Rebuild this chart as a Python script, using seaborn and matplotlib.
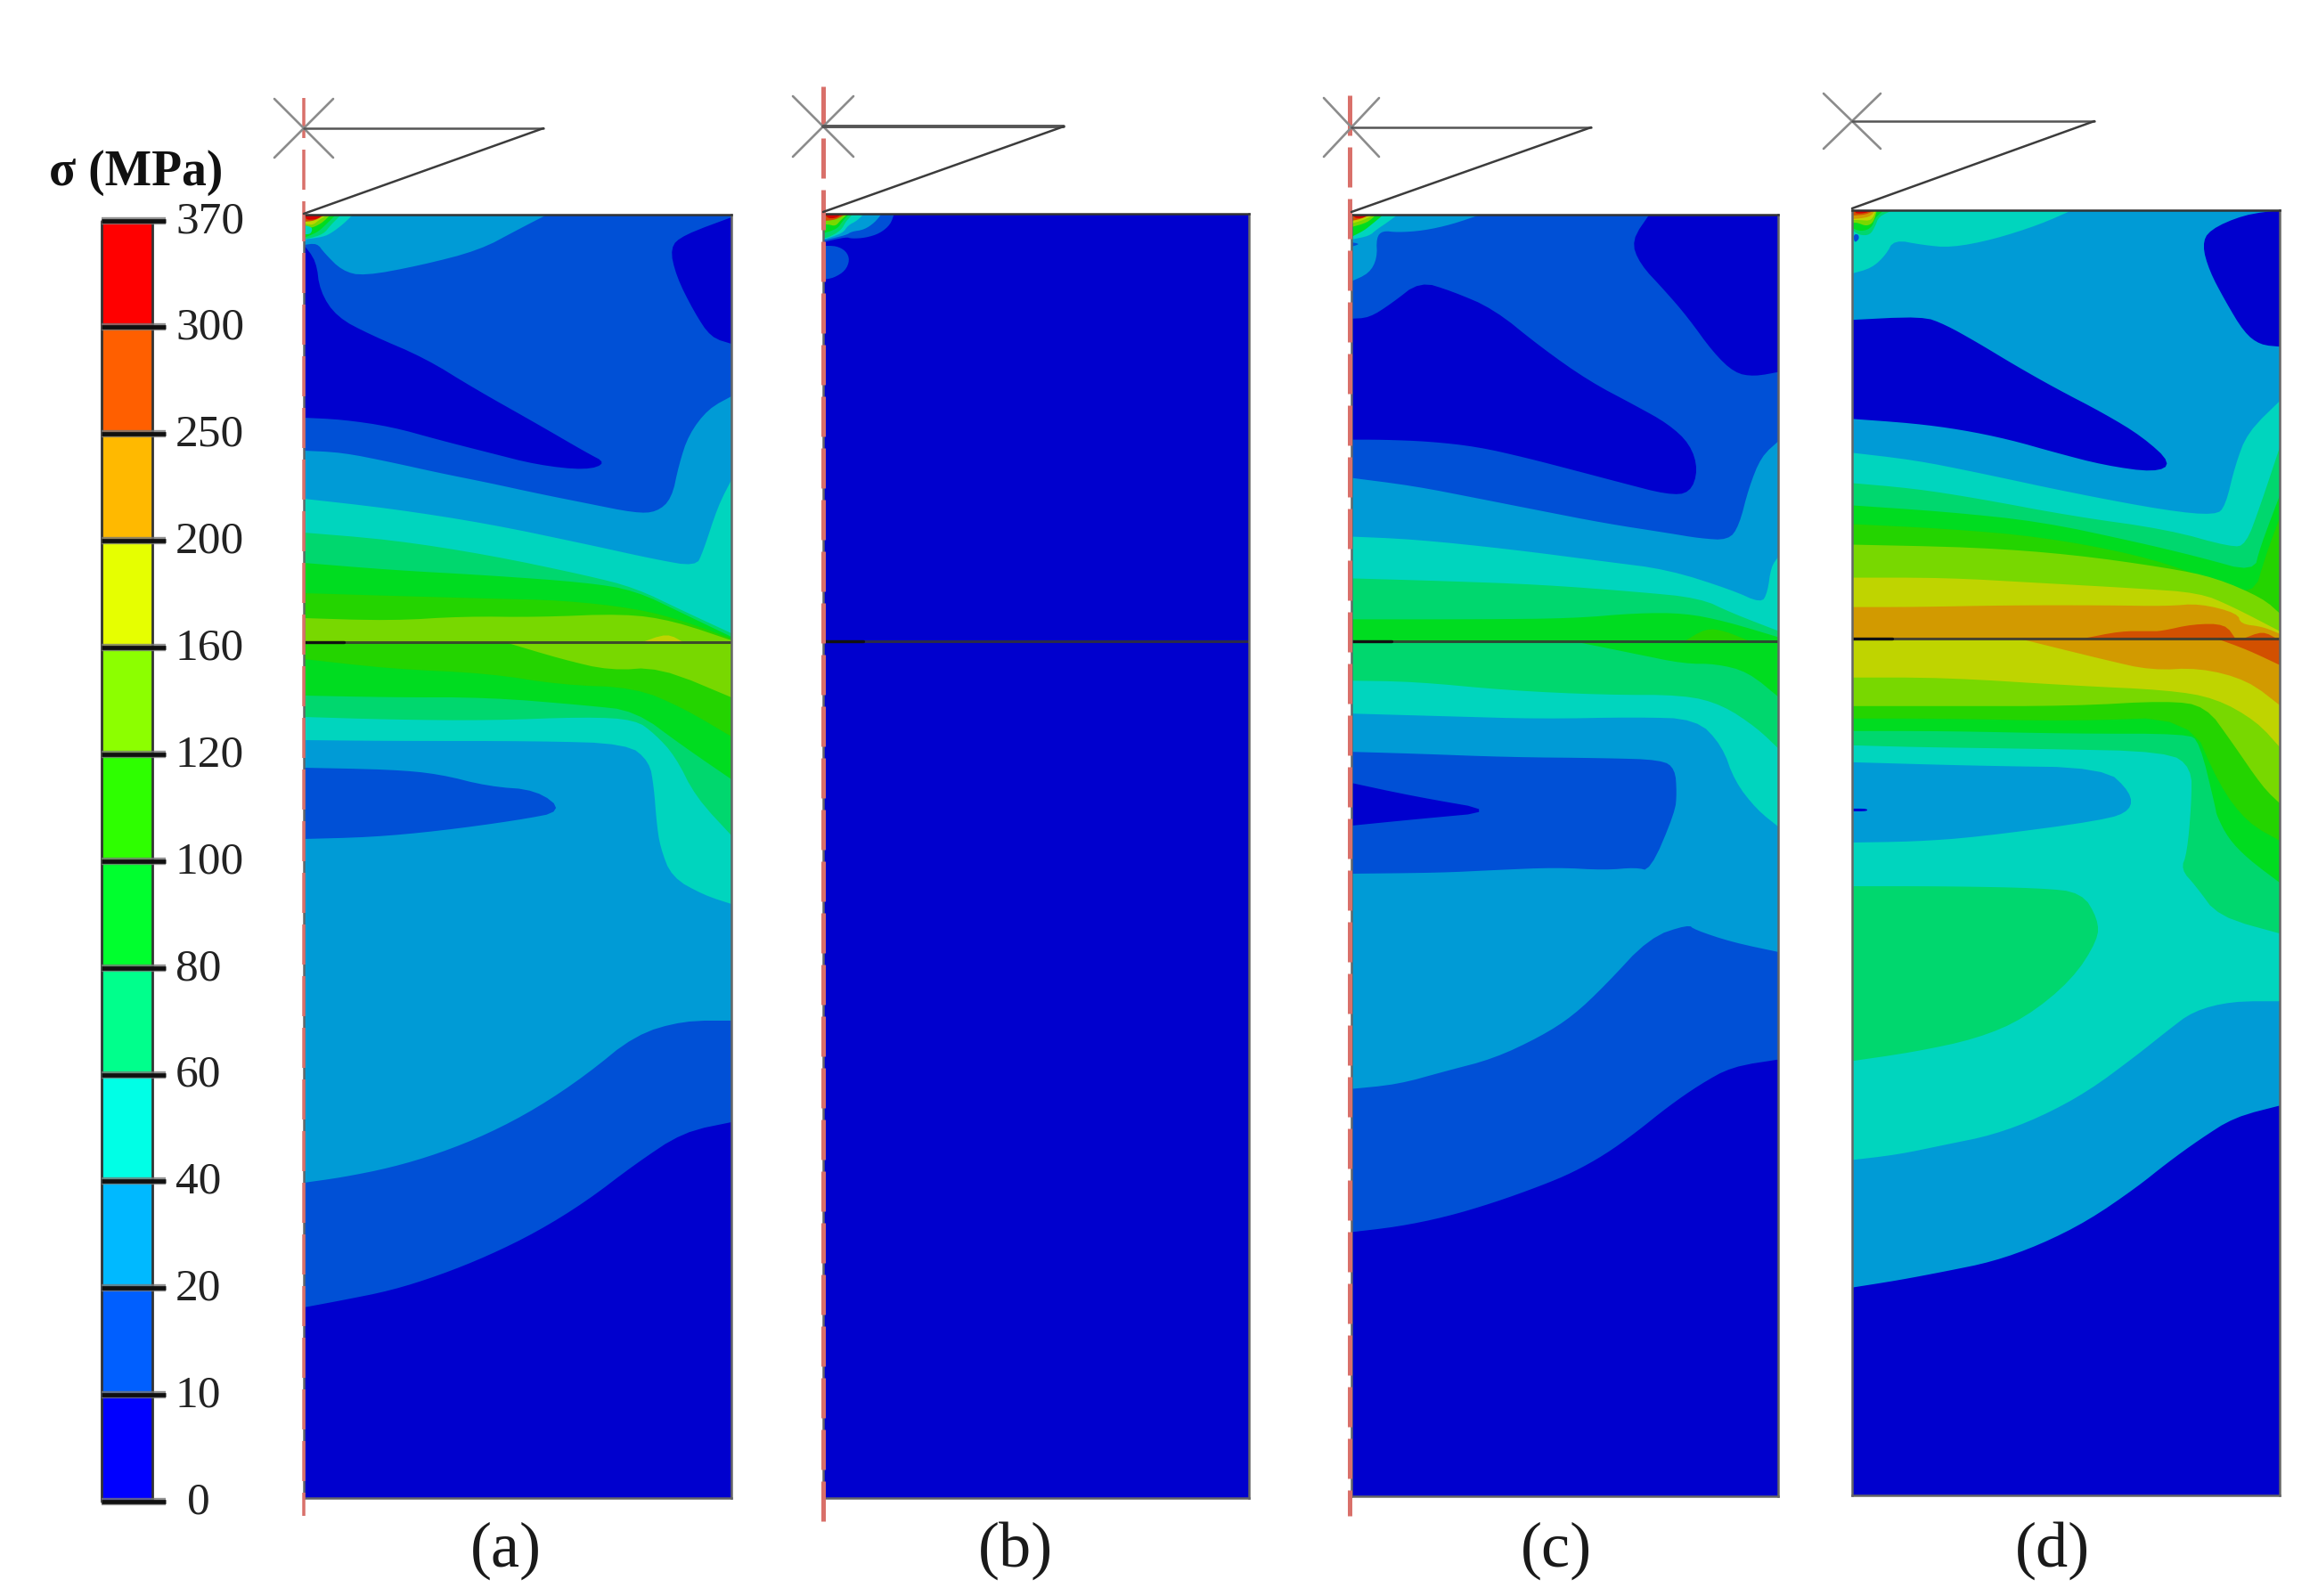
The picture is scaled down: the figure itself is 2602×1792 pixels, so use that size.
import matplotlib
matplotlib.use('Agg')
import matplotlib.pyplot as plt
from matplotlib.colors import ListedColormap
import numpy as np
import seaborn as sns

W, H = 2602, 1792

# stress legend, top to bottom
TICK_LABELS = ['370', '300', '250', '200', '160', '120', '100', '80', '60', '40', '20', '10', '0']
BAR_COLORS = ['#0000ff', '#005fff', '#00b9ff', '#00ffe6', '#00ff8c', '#00ff2e',
              '#2eff00', '#8cff00', '#e6ff00', '#ffb900', '#ff5f00', '#ff0000']
BAND_COLORS = ['#0000ce', '#0050d6', '#009bd6', '#00d5be', '#00d76e', '#00dc20',
               '#24d400', '#78d800', '#bfd400', '#d29a00', '#d25000', '#d40000']
BAR_BANDS = [11, 10, 9, 8, 7, 6, 5, 4, 3, 2, 1, 0]
PANEL_LABELS = ['(a)', '(b)', '(c)', '(d)']
BASE_BANDS = [1, 0, 1, 2]

# stress contours: (band, width position, depth), painted in order
PANEL_A = [
    (0, [0, 43, 98, 152, 207, 262, 317, 372, 426, 480, 480, 0],
     [1227, 1219, 1208, 1191, 1169, 1142, 1108, 1066, 1030, 1019, 1441, 1441]),
    (0, [480, 426, 411, 418, 438, 457, 480], [3, 23, 37, 69, 109, 138, 145]),
    (0, [0, 14, 18, 37, 75, 136, 191, 262, 317, 340, 317, 262, 207, 152, 98, 43, 0],
     [34, 52, 86, 115, 135, 161, 195, 235, 267, 279, 287, 281, 267, 253, 238, 230, 228]),
    (2, [0, 43, 98, 152, 207, 262, 317, 372, 396, 413, 421, 432, 454, 480, 480, 426, 372, 317, 262, 207, 152, 98, 43, 0],
     [265, 267, 278, 290, 301, 313, 324, 335, 334, 319, 281, 247, 218, 204, 905, 905, 921, 966, 1003, 1032, 1054, 1070, 1081, 1087]),
    (2, [0, 273, 240, 197, 131, 67, 43, 23, 15, 0], [0, 0, 17, 40, 57, 69, 63, 43, 32, 34]),
    (1, [0, 98, 152, 207, 262, 292, 240, 152, 76, 0], [621, 623, 628, 642, 646, 670, 680, 692, 699, 701]),
    (3, [0, 98, 207, 317, 394, 440, 448, 465, 480, 480, 449, 413, 400, 396, 393, 388, 363, 262, 98, 0],
     [319, 330, 347, 370, 387, 395, 379, 327, 298, 774, 764, 744, 710, 682, 643, 614, 594, 591, 591, 590]),
    (4, [0, 98, 207, 317, 372, 426, 480, 480, 440, 417, 394, 372, 317, 207, 98, 0],
     [357, 365, 382, 405, 419, 445, 470, 697, 654, 608, 583, 567, 564, 568, 567, 564]),
    (5, [0, 98, 207, 317, 372, 426, 480, 480, 0], [391, 399, 405, 413, 422, 448, 474, 481, 481]),
    (5, [0, 480, 480, 426, 372, 317, 207, 98, 0], [481, 481, 634, 597, 557, 551, 542, 542, 540]),
    (6, [0, 98, 207, 290, 372, 426, 480, 480, 0], [425, 428, 431, 433, 442, 456, 476, 481, 481]),
    (6, [0, 480, 480, 426, 372, 289, 207, 98, 0], [481, 481, 586, 554, 531, 528, 515, 510, 499]),
    (7, [0, 98, 180, 262, 360, 415, 480, 480, 0], [453, 456, 451, 452, 448, 456, 478, 481, 481]),
    (7, [229, 289, 344, 399, 480, 480], [481, 499, 512, 508, 542, 481]),
    (8, [380, 408, 426], [480, 470, 480]),
    (3, [0, 55, 45, 32, 22, 0], [0, 0, 10, 20, 25, 28]),
    (4, [0, 42, 30, 22, 5, 0], [0, 0, 12, 22, 27, 27]),
    (5, [0, 36, 24, 15, 0], [0, 0, 12, 20, 26]),
    (7, [0, 30, 20, 6, 0], [0, 0, 10, 16, 12]),
    (3, [0, 10, 8, 0], [12, 14, 22, 22]),
    (8, [0, 27, 17, 10, 0], [0, 0, 6, 12, 10]),
    (10, [0, 24, 12, 0], [0, 0, 7, 8]),
    (11, [2, 22, 15, 5, 2], [0, 0, 5, 6, 4]),
]
PANEL_B = [
    (1, [30, 80, 76, 64, 48, 32, 26, 0], [0, 0, 12, 22, 27, 28, 26, 32]),
    (1, [0, 15, 26, 30, 25, 12, 0], [36, 36, 42, 52, 64, 72, 74]),
    (2, [0, 66, 58, 46, 32, 26, 0], [0, 0, 10, 18, 20, 24, 30]),
    (3, [0, 46, 38, 28, 22, 0], [0, 0, 8, 13, 22, 29]),
    (4, [0, 34, 26, 20, 5, 0], [0, 0, 8, 19, 27, 27]),
    (5, [0, 30, 22, 16, 0], [0, 0, 8, 17, 22]),
    (7, [0, 28, 20, 14, 6, 0], [0, 0, 7, 14, 12, 12]),
    (10, [0, 26, 14, 0], [0, 0, 7, 8]),
    (11, [2, 22, 14, 5], [0, 0, 5, 5]),
]
PANEL_C = [
    (0, [0, 52, 106, 160, 213, 249, 285, 320, 356, 392, 428, 480, 480, 0],
     [1144, 1138, 1127, 1111, 1092, 1077, 1057, 1032, 1003, 978, 958, 950, 1441, 1441]),
    (0, [335, 315, 324, 353, 378, 407, 431, 453, 480, 480], [0, 29, 55, 86, 115, 155, 178, 182, 177, 0]),
    (0, [0, 20, 45, 77, 113, 160, 213, 267, 320, 356, 381, 390, 381, 356, 302, 249, 195, 142, 88, 35, 0],
     [117, 116, 100, 75, 86, 106, 149, 187, 215, 235, 258, 287, 313, 315, 301, 287, 273, 261, 255, 253, 253]),
    (2, [0, 70, 142, 213, 285, 356, 392, 424, 436, 447, 461, 480, 480, 428, 386, 379, 335, 285, 249, 213, 160, 106, 52, 0],
     [296, 305, 319, 333, 347, 358, 364, 366, 350, 307, 272, 255, 829, 818, 804, 798, 813, 867, 901, 924, 949, 963, 978, 983]),
    (2, [0, 145, 113, 81, 52, 35, 28, 29, 20, 0], [0, 0, 11, 18, 20, 18, 26, 49, 66, 75]),
    (1, [0, 70, 177, 285, 349, 364, 366, 364, 336, 320, 285, 231, 160, 99, 0],
     [604, 606, 610, 611, 613, 623, 650, 672, 738, 734, 737, 734, 737, 740, 741]),
    (0, [0, 70, 168, 70, 0], [639, 654, 671, 680, 687]),
    (3, [0, 70, 177, 285, 356, 428, 461, 468, 472, 480, 480, 456, 431, 417, 388, 320, 213, 106, 0],
     [362, 365, 376, 390, 399, 422, 437, 425, 396, 385, 688, 669, 637, 597, 567, 565, 567, 564, 561]),
    (4, [0, 106, 213, 320, 392, 428, 480, 480, 456, 417, 374, 285, 177, 70, 0],
     [409, 412, 416, 424, 431, 448, 468, 600, 577, 551, 540, 540, 535, 525, 524]),
    (5, [0, 142, 249, 320, 374, 420, 480, 480, 0], [455, 455, 454, 448, 448, 457, 475, 481, 481]),
    (5, [256, 320, 374, 410, 446, 480, 480], [481, 494, 505, 505, 514, 542, 481]),
    (6, [374, 399, 420, 449], [480, 465, 468, 480]),
    (3, [0, 52, 40, 28, 20, 0], [0, 0, 9, 17, 24, 28]),
    (5, [0, 36, 24, 14, 0], [0, 0, 10, 18, 25]),
    (7, [0, 28, 18, 0], [0, 0, 9, 14]),
    (8, [0, 26, 14, 0], [0, 0, 6, 10]),
    (10, [0, 22, 10, 0], [0, 0, 5, 7]),
    (11, [2, 20, 12, 4], [0, 0, 4, 4]),
    (1, [0, 10, 0], [31, 33, 36]),
]
PANEL_D = [
    (0, [0, 51, 104, 158, 211, 265, 319, 354, 390, 429, 480, 480, 0],
     [1208, 1200, 1190, 1179, 1160, 1133, 1096, 1068, 1042, 1017, 1004, 1441, 1441]),
    (0, [480, 440, 401, 393, 401, 419, 440, 458, 480], [0, 5, 22, 39, 68, 102, 137, 151, 153]),
    (0, [0, 79, 104, 140, 183, 229, 283, 326, 359, 340, 283, 229, 176, 122, 69, 0],
     [123, 119, 128, 148, 174, 200, 228, 254, 284, 294, 286, 272, 257, 246, 239, 234]),
    (3, [0, 247, 211, 158, 111, 79, 47, 38, 22, 0], [0, 0, 16, 33, 42, 39, 33, 50, 65, 71]),
    (3, [0, 69, 140, 247, 354, 408, 419, 430, 444, 480, 480, 426, 383, 354, 319, 265, 211, 158, 104, 51, 0],
     [272, 280, 294, 317, 337, 342, 332, 286, 249, 214, 887, 887, 898, 920, 948, 988, 1017, 1037, 1048, 1059, 1065]),
    (2, [0, 140, 283, 313, 313, 283, 140, 69, 0], [619, 623, 625, 653, 673, 684, 703, 708, 709]),
    (4, [0, 69, 140, 247, 354, 426, 442, 458, 480, 480, 411, 386, 369, 376, 381, 381, 354, 211, 69, 0],
     [306, 312, 323, 343, 358, 378, 375, 332, 266, 811, 792, 758, 739, 721, 664, 625, 607, 604, 602, 600]),
    (4, [0, 104, 211, 258, 276, 276, 247, 194, 140, 69, 0], [758, 758, 760, 765, 795, 818, 863, 906, 929, 944, 954]),
    (5, [0, 104, 211, 319, 390, 451, 458, 480, 480, 444, 422, 409, 408, 390, 376, 247, 104, 0],
     [331, 338, 349, 372, 389, 406, 378, 320, 754, 727, 704, 678, 670, 596, 587, 587, 584, 584]),
    (6, [0, 104, 211, 319, 390, 450, 465, 480, 480, 444, 412, 379, 247, 104, 0],
     [352, 357, 366, 386, 409, 435, 385, 345, 707, 687, 645, 568, 573, 570, 570]),
    (7, [0, 140, 247, 354, 408, 461, 480, 480, 461, 426, 397, 354, 247, 104, 0],
     [375, 378, 386, 401, 412, 435, 452, 665, 647, 596, 556, 550, 556, 556, 556]),
    (8, [0, 104, 211, 319, 390, 426, 480, 480, 454, 408, 354, 247, 104, 0],
     [412, 412, 418, 424, 429, 444, 472, 602, 573, 547, 538, 533, 524, 524]),
    (9, [0, 69, 176, 283, 354, 390, 433, 436, 461, 480, 480, 0], [445, 445, 443, 443, 444, 441, 452, 464, 467, 475, 481, 481]),
    (9, [190, 283, 336, 390, 444, 480, 480], [481, 504, 516, 513, 527, 555, 481]),
    (10, [261, 301, 334, 347, 383, 419, 430], [480, 472, 472, 472, 464, 464, 480]),
    (10, [440, 461, 476], [480, 472, 480]),
    (10, [411, 444, 480, 480], [481, 493, 510, 481]),
    (0, [0, 17, 17, 0], [671, 671, 674, 674]),
    (4, [0, 46, 30, 26, 20, 8, 0], [0, 0, 7, 18, 28, 28, 22]),
    (5, [0, 36, 26, 22, 10, 0], [0, 0, 8, 20, 24, 20]),
    (7, [0, 28, 24, 16, 6, 0], [0, 0, 14, 18, 14, 14]),
    (8, [0, 27, 22, 8, 0], [0, 0, 12, 11, 11]),
    (9, [0, 26, 20, 0], [0, 0, 8, 10]),
    (10, [0, 25, 16, 0], [0, 0, 5, 6]),
    (11, [3, 23, 16, 4], [0, 0, 3, 4]),
    (1, [2, 7, 8, 4, 2], [27, 27, 32, 36, 34]),
]
PANELS = [PANEL_A, PANEL_B, PANEL_C, PANEL_D]

# frame of each panel in the picture: left, top, right, bottom
FRAMES = [(341, 241, 821, 1682), (924, 240, 1402, 1682), (1517, 241, 1996, 1680), (2079, 236, 2559, 1679)]
INTERFACE_DEPTH = 480
LABEL_X = [568, 1140, 1747, 2304]
# load centre x, y, apex x, corner y, star half sizes, top line width
LOADS = [(341, 144, 610, 240, 33, 33, 1.8), (924, 142, 1194, 238, 34, 34, 2.8),
         (1517, 143, 1786, 238, 31, 33, 1.8), (2079, 136, 2351, 234, 32, 31, 1.8)]
AXIS_LINES = [(341, 110, 1702, 3.5), (924, 97, 1708, 5), (1515, 107, 1702, 5)]

sns.set_theme(style='white')
plt.rcParams['font.family'] = ['Liberation Serif', 'DejaVu Serif']
fig = plt.figure(figsize=(W / 100, H / 100), dpi=100, facecolor='white')


def add_rect(left, top, right, bottom):
    return fig.add_axes([left / W, 1 - bottom / H, (right - left) / W, (bottom - top) / H])


def round_contour(xs, depths, rounds=2):
    # cut the corners of a contour, points on the frame stay put
    pts = [np.array(p, dtype=float) for p in zip(xs, depths)]
    fixed = [p[0] in (0, 480) or p[1] in (0, 480, 481, 1441) for p in pts]
    for _ in range(rounds):
        new_pts, new_fixed = [], []
        for i, p in enumerate(pts):
            if fixed[i]:
                new_pts.append(p)
                new_fixed.append(True)
            else:
                new_pts += [0.75 * p + 0.25 * pts[i - 1], 0.75 * p + 0.25 * pts[(i + 1) % len(pts)]]
                new_fixed += [False, False]
        pts, fixed = new_pts, new_fixed
    pts = np.array(pts)
    return pts[:, 0], pts[:, 1]


# colour scale
bar_ax = add_rect(114, 247.6, 171, 1686)
sns.heatmap(np.array(BAR_BANDS).reshape(-1, 1), cmap=ListedColormap(BAR_COLORS), vmin=-0.5, vmax=11.5,
            cbar=False, xticklabels=False, yticklabels=False, ax=bar_ax)
bar_ax.plot([0, 0], [0, 12], color='#333333', lw=2, clip_on=False)
bar_ax.plot([1, 1], [0, 12], color='#333333', lw=2, clip_on=False)
for i, label in enumerate(TICK_LABELS):
    bar_ax.plot([0, 1.263], [i, i], color='#777777', lw=6, clip_on=False, solid_capstyle='butt', zorder=5, alpha=0.8)
    bar_ax.plot([0, 1.263], [i, i], color='#101010', lw=3.4, clip_on=False, solid_capstyle='butt', zorder=6)
    bar_ax.text(1.68 if label == '0' else 1.456, i + 0.01, label, fontsize=37, color='#222222',
                ha='left', va='center', clip_on=False)

# stress panels
for contours, base, frame in zip(PANELS, BASE_BANDS, FRAMES):
    ax = add_rect(*frame)
    ax.set_xlim(0, 480)
    ax.set_ylim(1441, 0)
    ax.set_xticks([])
    ax.set_yticks([])
    ax.set_facecolor(BAND_COLORS[base])
    for band, xs, depths in contours:
        ax.fill(*round_contour(xs, depths), color=BAND_COLORS[band], lw=0)
    ax.plot([0, 480], [INTERFACE_DEPTH, INTERFACE_DEPTH], color='#333333', lw=2.2, alpha=0.85)
    ax.plot([0, 45], [INTERFACE_DEPTH, INTERFACE_DEPTH], color='#111111', lw=2.4)
    for spine in ax.spines.values():
        spine.set_color('#666666')
        spine.set_linewidth(1.8)
    ax.spines['top'].set_color('#333333')

# load symbols, centre lines, titles on a picture wide layer
top_ax = fig.add_axes([0, 0, 1, 1], zorder=10)
top_ax.set_xlim(0, W)
top_ax.set_ylim(H, 0)
top_ax.axis('off')
top_ax.patch.set_alpha(0)
for x, y1, y2, width in AXIS_LINES:
    top_ax.plot([x, x], [y1, y2], color='#d9706a', lw=width * 0.72, linestyle=(0, (45 / width, 13 / width)))
for cx, cy, apex, corner, dx, dy, top_lw in LOADS:
    top_ax.plot([cx - dx, cx + dx], [cy - dy, cy + dy], color='#8c8c8c', lw=1.9)
    top_ax.plot([cx - dx, cx + dx], [cy + dy, cy - dy], color='#8c8c8c', lw=1.9)
    top_ax.plot([cx, apex], [cy, cy], color='#555555', lw=top_lw)
    top_ax.plot([apex, cx], [cy, corner], color='#3c3c3c', lw=1.8)
top_ax.text(55, 194, 'σ (MPa)', fontsize=40, fontweight='bold', color='#111111', ha='left', va='center')
for x, label in zip(LABEL_X, PANEL_LABELS):
    top_ax.text(x, 1741, label, fontsize=52, color='#1a1a1a', ha='center', va='center')

plt.savefig('out.png', dpi=100)
